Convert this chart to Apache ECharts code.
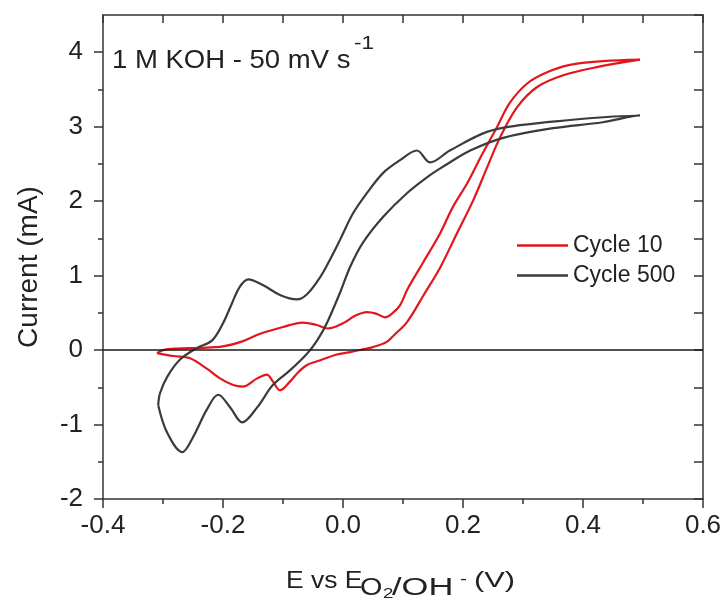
<!DOCTYPE html>
<html lang="en">
<head>
<meta charset="UTF-8">
<title>CV cycles</title>
<script src="https://cdn.jsdelivr.net/npm/echarts@6/dist/echarts.min.js"></script>
<style>
  body { margin: 0; padding: 0; background: #fff; }
  #main { width: 726px; height: 599px; }
</style>
</head>
<body>
<div id="main"></div>
<script>
// Cycle 10: left vertex -> anodic branch -> right vertex -> cathodic branch
var cycle10V = [-0.31, -0.3, -0.277, -0.238, -0.2, -0.17, -0.138, -0.1, -0.067, -0.045, -0.025, 0.0, 0.02, 0.04, 0.055, 0.07, 0.083, 0.095, 0.107, 0.133, 0.162, 0.183, 0.207, 0.23, 0.257, 0.278, 0.307, 0.34, 0.378, 0.433, 0.495,
  0.423, 0.367, 0.323, 0.29, 0.262, 0.24, 0.217, 0.19, 0.162, 0.133, 0.107, 0.085, 0.073, 0.05, 0.033, 0.01, -0.01, -0.043, -0.06, -0.075, -0.088, -0.105, -0.117, -0.127, -0.143, -0.167, -0.183, -0.205, -0.227, -0.255, -0.283, -0.31];
var cycle10I = [-0.04, 0.0, 0.02, 0.03, 0.05, 0.11, 0.22, 0.31, 0.37, 0.34, 0.29, 0.36, 0.46, 0.51, 0.49, 0.44, 0.5, 0.6, 0.81, 1.17, 1.57, 1.92, 2.24, 2.6, 3.0, 3.32, 3.58, 3.73, 3.83, 3.88, 3.9,
  3.8, 3.69, 3.53, 3.26, 2.86, 2.45, 2.01, 1.57, 1.11, 0.72, 0.38, 0.2, 0.11, 0.04, 0.01, -0.03, -0.06, -0.15, -0.2, -0.3, -0.42, -0.54, -0.42, -0.33, -0.38, -0.49, -0.47, -0.38, -0.25, -0.11, -0.08, -0.04];

// Cycle 500
var cycle500V = [-0.308, -0.305, -0.293, -0.272, -0.243, -0.218, -0.2, -0.185, -0.172, -0.158, -0.133, -0.105, -0.077, -0.06, -0.038, -0.022, -0.005, 0.017, 0.04, 0.067, 0.095, 0.123, 0.145, 0.178, 0.24, 0.295, 0.378, 0.44, 0.495,
  0.483, 0.433, 0.35, 0.267, 0.212, 0.178, 0.162, 0.145, 0.107, 0.067, 0.033, 0.012, -0.005, -0.027, -0.043, -0.06, -0.088, -0.117, -0.143, -0.168, -0.188, -0.208, -0.227, -0.25, -0.268, -0.293, -0.308];
var cycle500I = [-0.74, -0.58, -0.36, -0.13, 0.03, 0.13, 0.36, 0.63, 0.85, 0.95, 0.87, 0.74, 0.68, 0.75, 0.98, 1.21, 1.48, 1.84, 2.11, 2.38, 2.55, 2.68, 2.52, 2.68, 2.93, 3.02, 3.09, 3.13, 3.15,
  3.14, 3.06, 2.98, 2.85, 2.68, 2.52, 2.44, 2.35, 2.11, 1.79, 1.44, 1.12, 0.77, 0.36, 0.13, -0.05, -0.27, -0.47, -0.77, -0.97, -0.77, -0.6, -0.8, -1.17, -1.37, -1.11, -0.74];

var yMajorTicks = [-2, -1, 0, 1, 2, 3, 4];
var yMinorTicks = [-1.5, -0.5, 0.5, 1.5, 2.5, 3.5];

function zip(xs, ys) {
  var out = [];
  for (var i = 0; i < xs.length; i++) out.push([xs[i], ys[i]]);
  return out;
}

var chart = echarts.init(document.getElementById('main'));
var axisColor = '#333';
var txt = '#222';
var font = 'Liberation Sans, Arial, sans-serif';

// plain text piece, top-left anchored, optionally stretched sideways
function label(s, x, y, size, sx) {
  return {
    type: 'text', x: x, y: y, scaleX: sx || 1,
    style: { text: s, fontSize: size, fontFamily: font, fill: txt, align: 'left', verticalAlign: 'top' }
  };
}

chart.setOption({
  animation: false,
  textStyle: { fontFamily: font },
  grid: { left: 103, right: 23, top: 15, bottom: 100 },
  legend: {
    orient: 'vertical',
    left: 512,
    top: 229,
    icon: 'rect',
    itemWidth: 51,
    itemHeight: 2.5,
    itemGap: 7,
    textStyle: { fontSize: 23, color: txt, fontFamily: font, lineHeight: 23 },
    data: ['Cycle 10', 'Cycle 500']
  },
  xAxis: [{
    type: 'value', position: 'bottom', min: -0.4, max: 0.6, interval: 0.2,
    axisLine: { onZero: false, lineStyle: { color: axisColor, width: 1.5 } },
    axisTick: { inside: false, length: 9, lineStyle: { color: axisColor, width: 1.5 } },
    minorTick: { show: true, splitNumber: 2, length: 5, lineStyle: { color: axisColor, width: 1.5 } },
    splitLine: { show: false },
    axisLabel: { fontSize: 26, color: txt, margin: 14, formatter: function (v) { return v.toFixed(1); } }
  }, {
    type: 'value', position: 'top', min: -0.4, max: 0.6, interval: 0.1,
    axisLine: { onZero: false, lineStyle: { color: axisColor, width: 1.5 } },
    axisTick: { inside: true, length: 8, lineStyle: { color: axisColor, width: 1.5 } },
    splitLine: { show: false },
    axisLabel: { show: false }
  }],
  yAxis: [{
    type: 'value', position: 'left', min: -2, max: 4.5, interval: 1,
    axisLine: { onZero: false, lineStyle: { color: axisColor, width: 1.5 } },
    axisTick: { inside: false, length: 9, customValues: yMajorTicks, lineStyle: { color: axisColor, width: 1.5 } },
    splitLine: { show: false },
    axisLabel: { fontSize: 26, color: txt, margin: 20, customValues: yMajorTicks }
  }, {
    type: 'value', position: 'left', min: -2, max: 4.5, interval: 0.5,
    axisLine: { show: false, onZero: false },
    axisTick: { inside: false, length: 5, customValues: yMinorTicks, lineStyle: { color: axisColor, width: 1.5 } },
    splitLine: { show: false },
    axisLabel: { show: false }
  }, {
    type: 'value', position: 'right', min: -2, max: 4.5, interval: 0.5,
    axisLine: { onZero: false, lineStyle: { color: axisColor, width: 1.5 } },
    axisTick: { inside: true, length: 9, lineStyle: { color: axisColor, width: 1.5 } },
    splitLine: { show: false },
    axisLabel: { show: false }
  }],
  graphic: [
    // annotation
    label('1 M KOH - 50 mV s', 112, 49, 25, 1.1),
    label('-1', 354, 35, 18, 1.25),
    // y title
    {
      type: 'text', x: 29, y: 267, rotation: Math.PI / 2,
      style: { text: 'Current (mA)', fontSize: 28, fontFamily: font, fill: txt, align: 'center', verticalAlign: 'middle' }
    },
    // x title: E vs E(O2/OH-) (V)
    label('E vs E', 286, 570, 23, 1.15),
    label('O', 360, 577, 23, 1.25),
    label('2', 383, 586, 15, 1.25),
    label('/OH', 392, 577, 23, 1.5),
    label('-', 460, 572, 16, 1.3),
    label('(V)', 474, 570, 22, 1.4)
  ],
  series: [{
    name: 'Cycle 10', type: 'line', xAxisIndex: 0, yAxisIndex: 0,
    data: zip(cycle10V, cycle10I),
    symbol: 'none', smooth: 0.35,
    lineStyle: { color: '#e2161c', width: 2.2 },
    itemStyle: { color: '#e2161c' },
    markLine: {
      silent: true, symbol: ['none', 'none'], label: { show: false },
      lineStyle: { color: '#1a1a1a', width: 1.5, type: 'solid' },
      data: [{ yAxis: 0 }]
    }
  }, {
    name: 'Cycle 500', type: 'line', xAxisIndex: 0, yAxisIndex: 0,
    data: zip(cycle500V, cycle500I),
    symbol: 'none', smooth: 0.35,
    lineStyle: { color: '#3b3b3b', width: 2.2 },
    itemStyle: { color: '#3b3b3b' }
  }]
});
</script>
</body>
</html>
